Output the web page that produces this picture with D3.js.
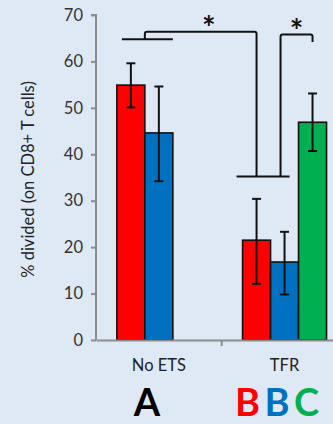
<!DOCTYPE html>
<html><head><meta charset="utf-8">
<script src="https://cdn.jsdelivr.net/npm/d3@7"></script>
<style>
html,body{margin:0;padding:0;background:#DEE9F5;}
svg{display:block;}
text{font-family:Lato,"Open Sans",sans-serif;}
</style></head>
<body><svg id="c" width="333" height="424"></svg>
<script>
const categories = ["No ETS", "TFR"];
const seriesNames = ["A", "B", "C"];
const seriesColors = ["#FF0000", "#0070C0", "#00B050"];
const meanA = [54.9, 21.5];
const meanB = [44.6, 16.8];
const meanC = [null, 46.9];
const errA = [[50.1, 59.6], [12.1, 30.4]];
const errB = [[34.2, 54.6], [9.8, 23.3]];
const errC = [null, [40.7, 53.1]];
const yTicks = [0, 10, 20, 30, 40, 50, 60, 70];
const groupLetters = [["A"], ["B", "B", "C"]];
const yTitle = "% divided (on CD8+ T cells)";

const svg = d3.select("#c");
const M = {left: 96, right: 347.4, top: 15, bottom: 340};
const y = d3.scaleLinear().domain([0, 70]).range([M.bottom, M.top]);
const x = d3.scaleBand().domain(categories).range([M.left, M.right]).paddingInner(0).paddingOuter(0);
const xs = d3.scaleBand().domain(seriesNames).range([0, x.bandwidth() * 0.668]);
const groupOff = (x.bandwidth() - xs.range()[1]) / 2;
const barX = (cat, s) => x(cat) + groupOff + xs(s);
const barC = (cat, s) => barX(cat, s) + xs.bandwidth() / 2;

const means = [meanA, meanB, meanC];
const errs = [errA, errB, errC];
const data = [];
seriesNames.forEach((s, si) => categories.forEach((c, ci) => {
  if (means[si][ci] != null) data.push({s, c, v: means[si][ci], e: errs[si][ci], color: seriesColors[si]});
}));

// axes
const axisColor = "#8c8c8c";
const yAxis = svg.append("g").attr("transform", `translate(${M.left},0)`)
  .call(d3.axisLeft(y).tickValues(yTicks).tickSize(5).tickPadding(8));
yAxis.select(".domain").attr("stroke", axisColor).attr("stroke-width", 2).attr("d", `M-5,${M.top}H0V${M.bottom}`);
yAxis.selectAll(".tick line").attr("stroke", axisColor).attr("stroke-width", 2);
yAxis.selectAll(".tick text").attr("fill", "#333").style("font-size", "16.5px").style("font-family", "Lato,sans-serif");

// bars
svg.append("g").selectAll("rect").data(data).join("rect")
  .attr("x", d => barX(d.c, d.s)).attr("width", xs.bandwidth())
  .attr("y", d => y(d.v)).attr("height", d => y(0) - y(d.v))
  .attr("fill", d => d.color).attr("stroke", "#111").attr("stroke-width", 1.6);

// x axis
const xAxis = svg.append("g").attr("transform", `translate(0,${M.bottom})`)
  .call(d3.axisBottom(x).tickSize(0).tickPadding(19));
xAxis.select(".domain").attr("stroke", axisColor).attr("stroke-width", 2);
xAxis.selectAll(".tick text").attr("fill", "#222").style("font-size", "16.5px").style("font-family", "Lato,sans-serif");
xAxis.append("line").attr("x1", x("TFR")).attr("x2", x("TFR")).attr("y1", 0).attr("y2", 6)
  .attr("stroke", axisColor).attr("stroke-width", 2);

// error bars
const eb = svg.append("g").attr("stroke", "#111").attr("stroke-width", 2);
data.forEach(d => {
  const cx = barC(d.c, d.s);
  eb.append("line").attr("x1", cx).attr("x2", cx).attr("y1", y(d.e[0])).attr("y2", y(d.e[1]));
  [0, 1].forEach(k => eb.append("line").attr("x1", cx - 4.5).attr("x2", cx + 4.5).attr("y1", y(d.e[k])).attr("y2", y(d.e[k])));
});

// y title
svg.append("text").attr("transform", `translate(34,${(M.top + M.bottom) / 2 + 2}) rotate(-90)`)
  .attr("text-anchor", "middle").attr("fill", "#222").style("font-size", "16.5px").text(yTitle);

// significance brackets
const br = svg.append("g").attr("fill", "none").attr("stroke", "#111").attr("stroke-width", 2);
const bw = xs.bandwidth();
const l1x0 = barX("No ETS", "A") + 5, l1x1 = barX("No ETS", "B") + bw;
br.append("line").attr("x1", l1x0).attr("x2", l1x1).attr("y1", y(64.8)).attr("y2", y(64.8));
const r1x0 = barX("TFR", "A") - 6, r1x1 = barC("TFR", "B") + 5;
br.append("line").attr("x1", r1x0).attr("x2", r1x1).attr("y1", y(35.2)).attr("y2", y(35.2));
const b1L = barX("No ETS", "B"), b1R = barC("TFR", "A");
br.append("path").attr("d", `M${b1L},${y(64.8)}V${y(66.4) + 2}Q${b1L},${y(66.4)} ${b1L + 2},${y(66.4)}H${b1R - 2}Q${b1R},${y(66.4)} ${b1R},${y(66.4) + 2}V${y(35.2)}`);
const b2L = barC("TFR", "B") - 4, b2R = barC("TFR", "C");
br.append("path").attr("d", `M${b2L},${y(35.2)}V${y(65.8) + 2}Q${b2L},${y(65.8)} ${b2L + 2},${y(65.8)}H${b2R - 2}Q${b2R},${y(65.8)} ${b2R},${y(65.8) + 2}V${y(64.2)}`);
// asterisks
const ast = [[(b1L + b1R) / 2 + 8, 66.4], [(b2L + b2R) / 2, 65.8]];
ast.forEach(a => svg.append("text").attr("x", a[0]).attr("y", y(a[1]) + 8).attr("text-anchor", "middle")
  .style("font-size", "32px").style("font-weight", "bold").attr("fill", "#111").text("*"));

// group letters
svg.append("text").attr("x", x("No ETS") + groupOff + xs.range()[1] / 2 - 12).attr("y", 416)
  .attr("text-anchor", "middle").style("font-size", "38px").style("font-weight", "bold").attr("fill", "#000").text(groupLetters[0][0]);
groupLetters[1].forEach((L, i) => {
  svg.append("text").attr("x", barC("TFR", seriesNames[i]) - 9 + i * 1.5).attr("y", 416)
    .attr("text-anchor", "middle").style("font-size", "38px").style("font-weight", "bold")
    .attr("fill", seriesColors[i]).text(L);
});
</script></body></html>
